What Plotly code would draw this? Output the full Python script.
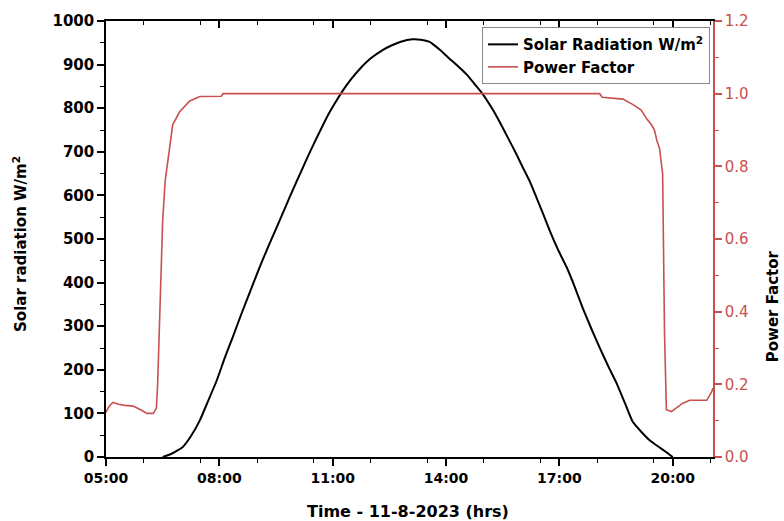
import plotly.graph_objects as go

DAY = "2023-08-11 "

# Solar radiation (W/m2)
solar_times = ["06:30", "06:45", "07:02", "07:15", "07:29", "07:42", "07:56", "08:08", "08:21",
               "08:35", "08:49", "09:02", "09:16", "09:29", "09:41", "09:52", "10:03", "10:13",
               "10:24", "10:38", "10:51", "11:03", "11:15", "11:29", "11:43", "12:00", "12:20",
               "12:35", "12:47", "13:07", "13:20", "13:34", "13:39", "13:52", "14:06", "14:20",
               "14:33", "14:45", "14:58", "15:12", "15:25", "15:38", "15:52", "16:02", "16:13",
               "16:24", "16:35", "16:45", "16:58", "17:12", "17:25", "17:37", "17:50", "18:04",
               "18:17", "18:31", "18:44", "18:56", "19:10", "19:23", "19:37", "19:50", "20:00"]
solar_vals = [0, 8, 23, 48, 84, 128, 176, 225, 274, 328, 380, 428, 477, 520, 560, 597, 633, 665,
              700, 742, 780, 810, 838, 866, 890, 914, 934, 945, 952, 958, 957, 952, 947, 932,
              913, 895, 877, 856, 833, 802, 769, 733, 694, 664, 632, 594, 555, 518, 475, 434,
              388, 342, 297, 251, 210, 169, 124, 82, 58, 39, 24, 11, 0]

# Power factor
pf_times = ["05:00", "05:05", "05:11", "05:20", "05:30", "05:43", "05:55", "06:05", "06:15",
            "06:20", "06:22", "06:26", "06:30", "06:34", "06:38", "06:46", "06:57", "07:13",
            "07:29", "07:45", "08:03", "08:06", "09:00", "12:00", "15:00", "18:04", "18:08",
            "18:41", "18:57", "19:10", "19:19", "19:26", "19:31", "19:35", "19:39", "19:44",
            "19:47", "19:50", "19:58", "20:08", "20:16", "20:27", "20:40", "20:54", "21:02",
            "21:04"]
pf_vals = [0.123, 0.14, 0.15, 0.145, 0.142, 0.14, 0.13, 0.12, 0.12, 0.134, 0.20, 0.45, 0.65,
           0.76, 0.81, 0.915, 0.95, 0.98, 0.992, 0.992, 0.993, 1.0, 1.0, 1.0, 1.0, 1.0, 0.99,
           0.985, 0.97, 0.955, 0.93, 0.915, 0.90, 0.87, 0.85, 0.78, 0.34, 0.13, 0.125, 0.138,
           0.148, 0.156, 0.156, 0.156, 0.18, 0.19]

x_range = ["05:00", "21:04"]
x_tick0 = "05:00"

RED = "#c8504f"
FONT = "DejaVu Sans"

fig = go.Figure()
fig.add_trace(go.Scatter(
    x=[DAY + t for t in solar_times], y=solar_vals, mode="lines",
    name="Solar Radiation W/m<sup>2</sup>",
    line=dict(color="black", width=2, shape="spline", smoothing=0.4),
))
fig.add_trace(go.Scatter(
    x=[DAY + t for t in pf_times], y=pf_vals, mode="lines", yaxis="y2",
    name="Power Factor", line=dict(color=RED, width=1.6),
))
fig.add_trace(go.Scatter(x=[], y=[], xaxis="x2", showlegend=False, hoverinfo="skip"))

fig.update_layout(
    width=784, height=521,
    margin=dict(l=106, r=71, t=19, b=64),
    paper_bgcolor="white", plot_bgcolor="white",
    showlegend=True,
    xaxis=dict(
        type="date", range=[DAY + x_range[0], DAY + x_range[1]],
        tick0=DAY + x_tick0, dtick=3 * 3600 * 1000, tickformat="%H:%M",
        showgrid=False, zeroline=False,
        showline=True, linecolor="black", linewidth=1.5,
        ticks="outside", ticklen=7, tickwidth=1.5, tickcolor="black",
        minor=dict(ticks="outside", ticklen=4, tickwidth=1, tickcolor="black",
                   dtick=1.5 * 3600 * 1000, showgrid=False),
        tickfont=dict(family=FONT, size=14, color="black", weight="bold"),
    ),
    xaxis2=dict(
        type="date", overlaying="x", side="top", matches="x",
        tick0=DAY + x_tick0, dtick=3 * 3600 * 1000,
        showgrid=False, zeroline=False, showticklabels=False,
        showline=True, linecolor="black", linewidth=1.5,
        ticks="inside", ticklen=7, tickwidth=1.5, tickcolor="black",
        minor=dict(ticks="inside", ticklen=4, tickwidth=1, tickcolor="black",
                   dtick=1.5 * 3600 * 1000, showgrid=False),
    ),
    yaxis=dict(
        range=[0, 1000], dtick=100, showgrid=False, zeroline=False,
        showline=True, linecolor="black", linewidth=1.5,
        ticks="outside", ticklen=7, tickwidth=1.5, tickcolor="black",
        minor=dict(ticks="outside", ticklen=4, tickwidth=1, tickcolor="black", dtick=50, showgrid=False),
        tickfont=dict(family=FONT, size=15, color="black", weight="bold"),
    ),
    yaxis2=dict(
        range=[0, 1.2], dtick=0.2, tickformat=".1f", overlaying="y", side="right",
        showgrid=False, zeroline=False,
        showline=True, linecolor=RED, linewidth=1.5,
        ticks="outside", ticklen=7, tickwidth=1.5, tickcolor=RED,
        minor=dict(ticks="outside", ticklen=4, tickwidth=1, tickcolor=RED, dtick=0.1, showgrid=False),
        tickfont=dict(family=FONT, size=15, color=RED),
    ),
    legend=dict(
        x=0.995, y=0.986, xanchor="right", yanchor="top",
        bgcolor="white", bordercolor="#888", borderwidth=1,
        font=dict(family=FONT, size=15, color="black", weight="bold"),
        tracegroupgap=0,
    ),
    annotations=[
        dict(text="<b>Solar radiation W/m<sup>2</sup></b>", xref="paper", yref="paper",
             x=-0.1417, y=0.4886, textangle=-90, showarrow=False,
             xanchor="center", yanchor="middle",
             font=dict(family=FONT, size=15, color="black")),
        dict(text="<b>Power Factor</b>", xref="paper", yref="paper",
             x=1.099, y=0.346, textangle=-90, showarrow=False,
             xanchor="center", yanchor="middle",
             font=dict(family=FONT, size=15, color="black")),
        dict(text="<b>Time - 11-8-2023 (hrs)</b>", xref="paper", yref="paper",
             x=0.4975, y=-0.1256, showarrow=False,
             xanchor="center", yanchor="middle",
             font=dict(family=FONT, size=16, color="black")),
    ],
)

fig.write_html("out.html", config={"displayModeBar": False},
               post_script="document.body.style.margin='0';")
